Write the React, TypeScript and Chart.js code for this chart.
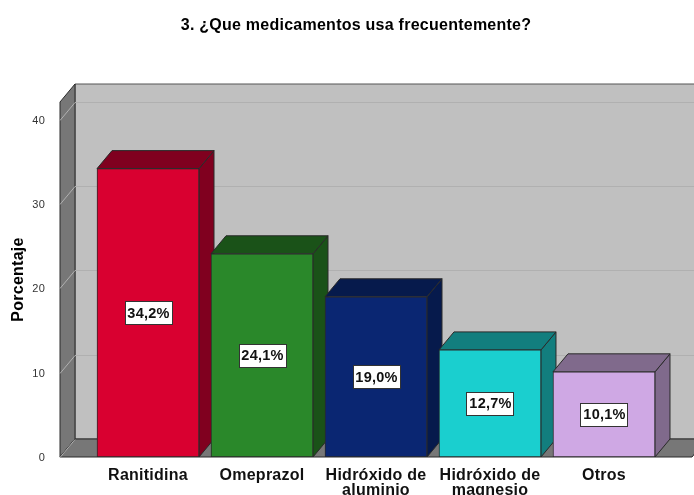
import React, { useEffect, useRef } from "react";
import { Chart, registerables } from "chart.js";

Chart.register(...registerables);

const categories: string[][] = [["Ranitidina"], ["Omeprazol"], ["Hidróxido de", "aluminio"], ["Hidróxido de", "magnesio"], ["Otros"]];
const percentages = [34.2, 24.1, 19.0, 12.7, 10.1];
const valueLabels = ["34,2%", "24,1%", "19,0%", "12,7%", "10,1%"];
const frontColors = ["#D90030", "#2A882A", "#0A2672", "#1ACFCF", "#CFA8E4"];
const shadeColors = ["#80001F", "#1A5218", "#061A4C", "#127E7E", "#806A8C"];
const yTicks = [0, 10, 20, 30, 40];
const titleText = "3. ¿Que medicamentos usa frecuentemente?";
const yTitle = "Porcentaje";

const FONT = "'Liberation Sans', Arial, sans-serif";
const DX = 15;
const DY = -18;
const EDGE = "#2a2a2a";
const TRACKING = "0.25px";

function poly(ctx: CanvasRenderingContext2D, pts: number[][], fill: string, stroke: string | null = EDGE) {
  ctx.beginPath();
  pts.forEach(([x, y], i) => (i ? ctx.lineTo(x, y) : ctx.moveTo(x, y)));
  ctx.closePath();
  ctx.fillStyle = fill;
  ctx.fill();
  if (stroke) {
    ctx.strokeStyle = stroke;
    ctx.lineWidth = 1;
    ctx.stroke();
  }
}

const box3d = {
  id: "box3d",
  beforeUpdate(chart: any) {
    chart.ctx.letterSpacing = TRACKING;
  },
  beforeDraw(chart: any) {
    chart.ctx.letterSpacing = TRACKING;
  },
  beforeDatasetsDraw(chart: any) {
    const { ctx, chartArea: a, scales } = chart;
    const y = scales.y;
    ctx.save();
    // back wall, side wall, floor
    poly(ctx, [[a.left + DX, a.top + DY], [a.right + DX, a.top + DY], [a.right + DX, a.bottom + DY], [a.left + DX, a.bottom + DY]], "#C0C0C0", "#555");
    poly(ctx, [[a.left, a.top], [a.left + DX, a.top + DY], [a.left + DX, a.bottom + DY], [a.left, a.bottom]], "#777777");
    poly(ctx, [[a.left, a.bottom], [a.left + DX, a.bottom + DY], [a.right + DX, a.bottom + DY], [a.right, a.bottom]], "#777777");
    // grid lines
    ctx.lineWidth = 1;
    yTicks.forEach((t) => {
      const py = Math.round(y.getPixelForValue(t)) + 0.5;
      ctx.strokeStyle = "#B0B0B0";
      ctx.beginPath();
      ctx.moveTo(a.left, py);
      ctx.lineTo(a.left + DX, py + DY);
      if (t > 0) ctx.lineTo(a.right + DX, py + DY);
      ctx.stroke();
    });
    // bar top and side faces
    const bars = chart.getDatasetMeta(0).data;
    bars.forEach((b: any, i: number) => {
      const w = b.width / 2;
      const l = b.x - w, r = b.x + w, t = b.y, bt = b.base;
      poly(ctx, [[r, t], [r + DX, t + DY], [r + DX, bt + DY], [r, bt]], shadeColors[i]);
      poly(ctx, [[l, t], [l + DX, t + DY], [r + DX, t + DY], [r, t]], shadeColors[i]);
    });
    ctx.restore();
  },
  afterDatasetsDraw(chart: any) {
    const { ctx } = chart;
    const bars = chart.getDatasetMeta(0).data;
    ctx.save();
    ctx.font = `bold 14.5px ${FONT}`;
    ctx.textAlign = "center";
    ctx.textBaseline = "middle";
    bars.forEach((b: any, i: number) => {
      const cy = (b.y + b.base) / 2;
      const bw = 47, bh = 23;
      const x = Math.round(b.x - bw / 2) + 0.5, yy = Math.round(cy - bh / 2) + 0.5;
      ctx.fillStyle = "#fff";
      ctx.fillRect(x, yy, bw, bh);
      ctx.strokeStyle = "#333";
      ctx.lineWidth = 1;
      ctx.strokeRect(x, yy, bw, bh);
      ctx.fillStyle = "#111";
      ctx.fillText(valueLabels[i], b.x + 0.5, cy + 1);
    });
    ctx.restore();
  },
};

export default function App() {
  const ref = useRef<HTMLCanvasElement | null>(null);
  useEffect(() => {
    const chart = new Chart(ref.current as HTMLCanvasElement, {
      type: "bar",
      plugins: [box3d],
      data: {
        datasets: [
          {
            data: percentages.map((v, i) => ({ x: i, y: v })),
            backgroundColor: frontColors,
            borderColor: EDGE,
            borderWidth: 1,
            borderSkipped: false,
            barThickness: 102,
          },
        ],
      },
      options: {
        responsive: false,
        animation: false,
        layout: { padding: { left: 20, right: 2, top: 0, bottom: 0 } },
        plugins: {
          legend: { display: false },
          tooltip: { enabled: false },
          title: {
            display: true,
            text: titleText,
            color: "#000",
            font: { family: FONT, size: 16, weight: "bold", lineHeight: 1.2 },
            padding: { top: 15.5, bottom: 67.3 },
          },
        },
        scales: {
          x: {
            type: "linear",
            offset: false,
            min: -0.772,
            max: 4.772,
            grid: { display: false },
            border: { display: false },
            afterBuildTicks: (s: any) => {
              s.ticks = categories.map((_, i) => ({ value: i }));
            },
            afterFit: (s: any) => {
              s.height = 38;
            },
            ticks: {
              autoSkip: false,
              maxRotation: 0,
              minRotation: 0,
              padding: 3,
              color: "#111",
              font: { family: FONT, size: 16, weight: "bold", lineHeight: 0.95 },
              callback: (v: any) => categories[v],
            },
          },
          y: {
            type: "linear",
            min: 0,
            max: 42.1,
            grid: { display: false },
            border: { display: false },
            afterBuildTicks: (s: any) => {
              s.ticks = yTicks.map((value) => ({ value }));
            },
            afterFit: (s: any) => {
              s.width = 40;
            },
            ticks: { padding: 7, labelOffset: 1, color: "#333", font: { family: FONT, size: 11 } },
            title: {
              display: true,
              text: yTitle,
              color: "#000",
              font: { family: FONT, size: 16, weight: "bold", lineHeight: 1.2 },
              padding: { top: -11.5, bottom: 0 },
            },
          },
        },
      },
    } as any);
    return () => chart.destroy();
  }, []);
  return (
    <div style={{ position: "fixed", left: 0, top: 0, width: 694, height: 495, background: "#fff" }}>
      <canvas ref={ref} width={694} height={495} style={{ display: "block" }} />
    </div>
  );
}
